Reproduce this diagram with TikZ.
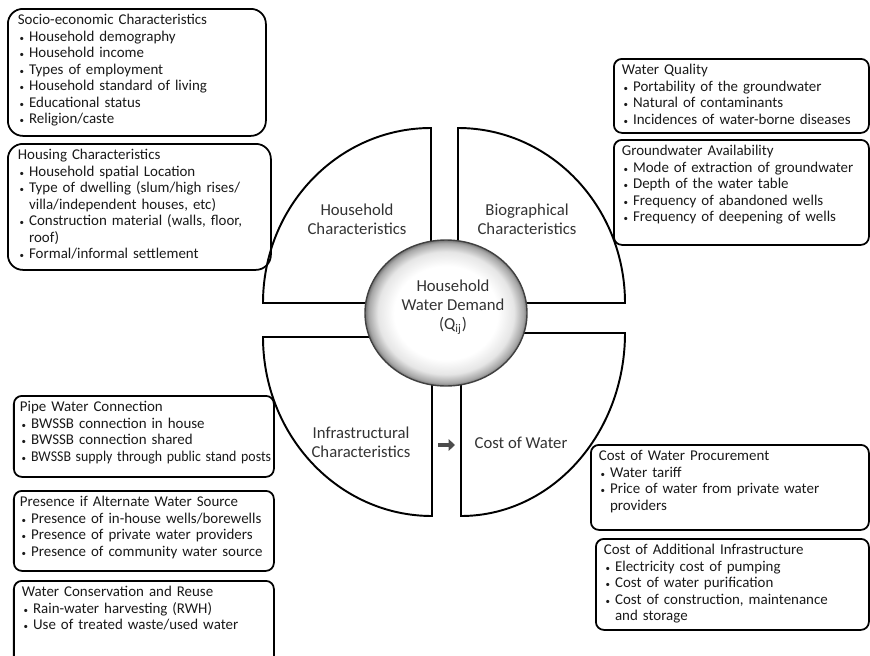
\documentclass[tikz,border=0pt]{standalone}
\usepackage{fontspec}
\setmainfont{Carlito}
\usetikzlibrary{arrows.meta,shapes.geometric}

% white ball with a grey rim
\pgfdeclareradialshading{rimball}{\pgfpoint{0bp}{0bp}}{color(0bp)=(white); color(16bp)=(white); color(21bp)=(black!10); color(24bp)=(black!35); color(25bp)=(black!55); color(50bp)=(black!55)}
\newcommand{\itm}{\makebox[0.75em][l]{\hspace{0.12em}\scalebox{0.6}{\textbullet}}}
\newcommand{\cnt}{\hspace*{0.75em}}

\begin{document}
\begin{tikzpicture}[
      infobox/.style={draw, line width=1pt, rounded corners=0.16cm, anchor=north west,
            align=left, inner xsep=0.16cm, inner ysep=0.1cm, text height=0.22cm,
            font=\fontsize{8.5}{9.4}\selectfont, text=black!90},
      quadrant/.style={draw, line width=1.1pt},
      quadlabel/.style={align=center, font=\fontsize{9.5}{10.8}\selectfont, text=black!80}]
      \useasboundingbox (0,0) rectangle (17.4,-13.1);
      \clip (0,0) rectangle (17.4,-13.1);

      % left column
      \node[infobox, rounded corners=0.3cm, inner xsep=0.2cm, text width=4.76cm, text depth=2.12cm] (socio) at (0.14,-0.16)
            {Socio-economic Characteristics\\
             \itm Household demography\\
             \itm Household income\\
             \itm Types of employment\\
             \itm Household standard of living\\
             \itm Educational status\\
             \itm Religion/caste};
      \node[infobox, rounded corners=0.3cm, inner xsep=0.2cm, text width=4.86cm, text depth=2.1cm] (housing) at (0.14,-2.86)
            {Housing Characteristics\\
             \itm Household spatial Location\\
             \itm Type of dwelling (slum/high rises/\\
             \cnt villa/independent houses, etc)\\
             \itm Construction material (walls, floor,\\
             \cnt roof)\\
             \itm Formal/informal settlement};
      \node[infobox, inner xsep=0.12cm, text width=4.96cm, text depth=1.2cm] (pipe) at (0.26,-7.9)
            {Pipe Water Connection\\
             \itm BWSSB connection in house\\
             \itm BWSSB connection shared\\
             \itm \scalebox{0.93}[1]{BWSSB supply through public stand posts}};
      \node[infobox, inner xsep=0.12cm, text width=4.96cm, text depth=1.18cm] (alternate) at (0.26,-9.8)
            {Presence if Alternate Water Source\\
             \itm Presence of in-house wells/borewells\\
             \itm Presence of private water providers\\
             \itm Presence of community water source};
      \node[infobox, inner xsep=0.16cm, text width=4.88cm, text depth=1.3cm] (conserve) at (0.26,-11.6)
            {Water Conservation and Reuse\\
             \itm Rain-water harvesting (RWH)\\
             \itm Use of treated waste/used water};

      % right column
      \node[infobox, text width=4.78cm, text depth=1.06cm] (quality) at (12.26,-1.16)
            {Water Quality\\
             \itm Portability of the groundwater\\
             \itm Natural of contaminants\\
             \itm Incidences of water-borne diseases};
      \node[infobox, text width=4.78cm, text depth=1.68cm] (ground) at (12.26,-2.78)
            {Groundwater Availability\\
             \itm Mode of extraction of groundwater\\
             \itm Depth of the water table\\
             \itm Frequency of abandoned wells\\
             \itm Frequency of deepening of wells};
      \node[infobox, text width=5.24cm, text depth=1.28cm] (procure) at (11.8,-8.88)
            {Cost of Water Procurement\\
             \itm Water tariff\\
             \itm Price of water from private water\\
             \cnt providers};
      \node[infobox, text width=5.14cm, text depth=1.4cm] (addinfra) at (11.9,-10.76)
            {Cost of Additional Infrastructure\\
             \itm Electricity cost of pumping\\
             \itm Cost of water purification\\
             \itm Cost of construction, maintenance\\
             \cnt and storage};

      % the four quarters
      \draw[quadrant] (8.62,-6.06) -- ++(0,3.5) arc[start angle=90, end angle=180, x radius=3.36, y radius=3.5] -- cycle;
      \draw[quadrant] (9.16,-6.06) -- ++(0,3.5) arc[start angle=90, end angle=0, x radius=3.34, y radius=3.5] -- cycle;
      \draw[quadrant] (8.64,-6.74) -- ++(-3.38,0) arc[start angle=180, end angle=270, x radius=3.38, y radius=3.58] -- cycle;
      \draw[quadrant] (9.22,-6.66) -- ++(3.28,0) arc[start angle=0, end angle=-90, x radius=3.28, y radius=3.66] -- cycle;

      % centre
      \node[ellipse, draw=black!75, line width=0.8pt, shade, shading=rimball,
            minimum width=3.24cm, minimum height=2.92cm] (demand) at (8.92,-6.26) {};
      \node[quadlabel] (demandtxt) at (9.06,-6.14) {Household\\Water Demand\\(Q\textsubscript{ij})};

      \node[quadlabel] (household) at (7.14,-4.38) {Household\\Characteristics};
      \node[quadlabel] (biograph) at (10.54,-4.38) {Biographical\\Characteristics};
      \node[quadlabel] (infra) at (7.22,-8.84) {Infrastructural\\Characteristics};
      \node[quadlabel] (cost) at (10.42,-8.86) {Cost of Water};

      \coordinate (arrtail) at (8.76,-8.9);
      \coordinate (arrtip) at (9.1,-8.9);
      \draw[line width=2.2pt, black!70, -{Triangle[length=3.6pt, width=6.5pt]}] (arrtail) -- (arrtip);
\end{tikzpicture}
\end{document}
